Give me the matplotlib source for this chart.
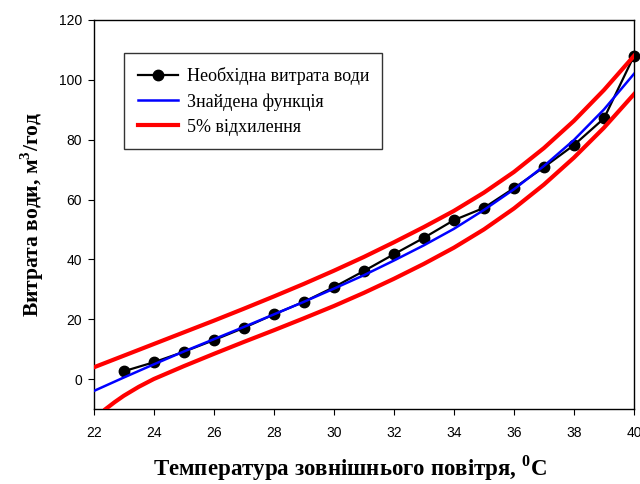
import numpy as np  # масиви
import matplotlib
matplotlib.use('Agg')
import matplotlib.pyplot as plt  # графіки

# Шрифти: Times для підписів, Arial для чисел на осях
plt.rcParams['font.family'] = ['Liberation Serif', 'DejaVu Serif']
plt.rcParams['mathtext.fontset'] = 'custom'
plt.rcParams['mathtext.rm'] = 'Liberation Serif'
plt.rcParams['mathtext.bf'] = 'Liberation Serif:bold'

# Дані
temp = [23, 24, 25, 26, 27, 28, 29, 30, 31, 32, 33, 34, 35, 36, 37, 38, 39, 40]
water = [2.6, 5.6, 9.1, 13.0, 17.1, 21.6, 25.8, 30.7, 36.1, 41.7, 47.2, 53.1, 57.2, 63.8, 70.8, 78.2, 87.1, 108.0]

# Знайдена функція та верхня межа
curve_x = [22, 23, 24, 25, 26, 27, 28, 29, 30, 31, 32, 33, 34, 35, 36, 37, 38, 39, 40]
fit_y = [-4.0, 0.5, 4.9, 9.2, 13.3, 17.4, 21.6, 25.8, 30.2, 34.7, 39.6, 44.7, 50.2, 56.5, 63.4, 71.2, 79.9, 90.1, 102.0]
upper_y = [3.9, 7.8, 11.7, 15.6, 19.5, 23.5, 27.6, 31.8, 36.2, 40.8, 45.7, 50.8, 56.2, 62.3, 69.2, 77.2, 86.3, 96.6, 108.0]

# Нижня межа (починається від нижнього краю осі)
lower_x = [22.4, 22.7, 23, 23.5, 24, 25, 26, 27, 28, 29, 30, 31, 32, 33, 34, 35, 36, 37, 38, 39, 40]
lower_y = [-10.0, -7.7, -5.6, -2.6, 0.0, 4.3, 8.4, 12.4, 16.3, 20.3, 24.4, 28.8, 33.5, 38.5, 43.9, 50.0, 57.0, 65.0, 74.0, 84.0, 95.2]

x_ticks = [22, 24, 26, 28, 30, 32, 34, 36, 38, 40]
y_ticks = [0, 20, 40, 60, 80, 100, 120]

fig = plt.figure(figsize=(6.4, 4.84), dpi=100)
ax = fig.add_axes([0.1464, 0.155, 0.8442, 0.8037])

# Лінії
ax.plot(temp, water, color='black', lw=1.6, marker='o', ms=7.5, clip_on=False, zorder=3,
        label='Необхідна витрата води')
ax.plot(curve_x, fit_y, color='blue', lw=1.8, zorder=4, label='Знайдена функція')
ax.plot(curve_x, upper_y, color='red', lw=3, zorder=5, label='5% відхилення')
ax.plot(lower_x, lower_y, color='red', lw=3, zorder=5)

ax.set_xlim(22, 40)
ax.set_ylim(-10, 120)
ax.set_xticks(x_ticks)
ax.set_yticks(y_ticks)
ax.tick_params(direction='out', length=4.5, width=0.8, top=False, right=False)
ax.tick_params(axis='x', pad=8)
ax.tick_params(axis='y', pad=4)
for lab in ax.get_xticklabels() + ax.get_yticklabels():
    lab.set_fontfamily('Liberation Sans')
    lab.set_fontsize(10)
for s in ax.spines.values():
    s.set_linewidth(1.0)

# Підписи осей
ax.set_xlabel(r'Температура зовнішнього повітря, $^{\mathbf{0}}$C', fontsize=16.5, fontweight='bold', labelpad=7)
ax.xaxis.set_label_coords(0.474, -0.113)
ax.set_ylabel(r'Витрата води, м$^{\mathbf{3}}$/год', fontsize=15.5, fontweight='bold', labelpad=9)

# Легенда
leg = ax.legend(loc='upper left', bbox_to_anchor=(0.0566, 0.914), borderaxespad=0,
                fontsize=13.0, frameon=True, fancybox=False, edgecolor='black',
                handlelength=2.2, handletextpad=0.5, labelspacing=0.45, borderpad=0.75)
leg.get_frame().set_linewidth(1.0)

fig.savefig('out.png', dpi=100)
